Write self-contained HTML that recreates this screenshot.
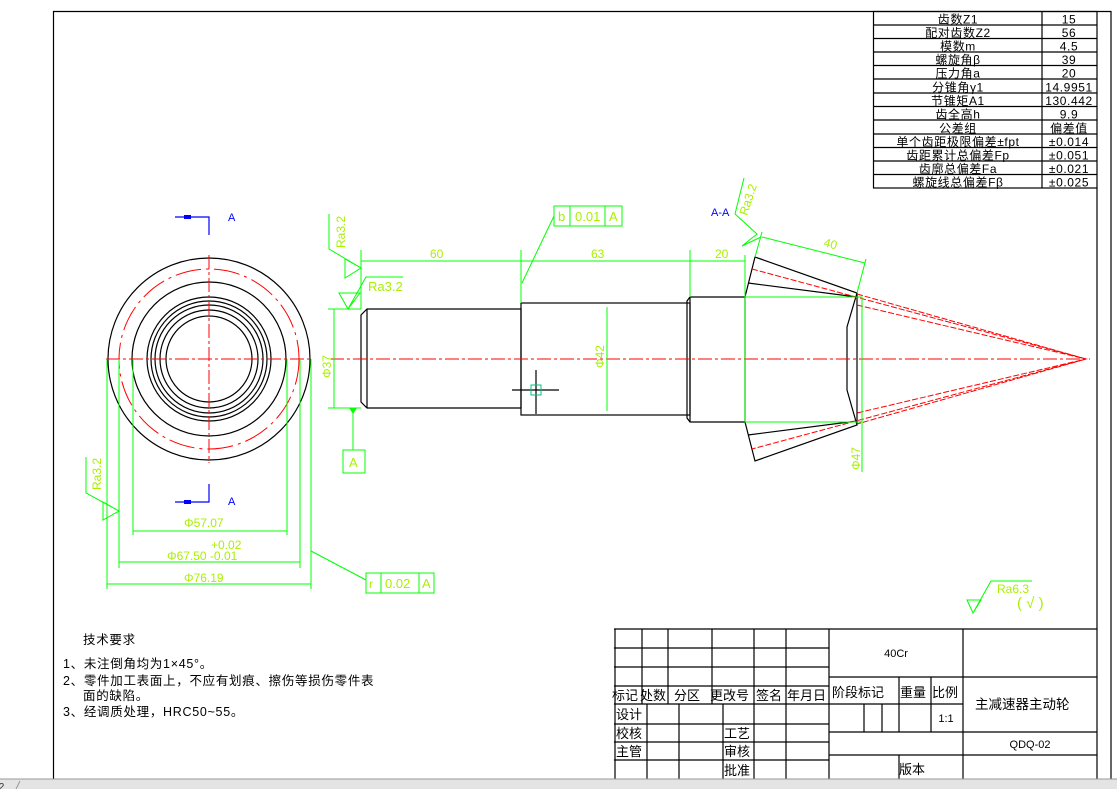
<!DOCTYPE html>
<html><head><meta charset="utf-8"><style>
html,body{margin:0;padding:0;background:#fff;}
svg{display:block;}
text{font-family:"Liberation Sans","Noto Sans CJK SC",sans-serif;}
.g{stroke:#00ff00;fill:none;stroke-width:1}
.k{stroke:#000;fill:none;stroke-width:1.2}
.r{stroke:#ff0000;fill:none;stroke-width:1;stroke-dasharray:14 3 3 3}
.rd{stroke:#ff0000;fill:none;stroke-width:1;stroke-dasharray:6 2}
.gt{fill:#a8f000;font-size:12px}
.tb{font-size:12px;fill:#000}
</style></head><body>
<svg width="1117" height="789" viewBox="0 0 1117 789" xmlns="http://www.w3.org/2000/svg">
<rect x="0" y="0" width="1117" height="789" fill="#fff"/>
<path class="k" d="M53.5,779 V11.5 H1111 V779"/>
<line class="k" x1="1097" y1="188" x2="1097" y2="779"/>
<g stroke="#000" stroke-width="1.2" fill="none">
<rect x="873.5" y="11.5" width="223.5" height="176.5"/>
<line x1="1042" y1="11.5" x2="1042" y2="188"/>
<line x1="873" y1="25" x2="1097" y2="25"/><line x1="873" y1="38.5" x2="1097" y2="38.5"/>
<line x1="873" y1="52" x2="1097" y2="52"/><line x1="873" y1="65.5" x2="1097" y2="65.5"/>
<line x1="873" y1="79" x2="1097" y2="79"/><line x1="873" y1="93" x2="1097" y2="93"/>
<line x1="873" y1="106.5" x2="1097" y2="106.5"/><line x1="873" y1="120" x2="1097" y2="120"/>
<line x1="873" y1="134" x2="1097" y2="134"/><line x1="873" y1="147.5" x2="1097" y2="147.5"/>
<line x1="873" y1="161" x2="1097" y2="161"/><line x1="873" y1="174.5" x2="1097" y2="174.5"/>
</g>
<g class="tb" text-anchor="middle" font-size="12.5" letter-spacing="0.6">
<text x="958" y="23.5">齿数Z1</text><text x="1069" y="23.5">15</text>
<text x="958" y="37">配对齿数Z2</text><text x="1069" y="37">56</text>
<text x="958" y="50.5">模数m</text><text x="1069" y="50.5">4.5</text>
<text x="958" y="64">螺旋角β</text><text x="1069" y="64">39</text>
<text x="958" y="77.5">压力角a</text><text x="1069" y="77.5">20</text>
<text x="958" y="91.5">分锥角γ1</text><text x="1069" y="91.5">14.9951</text>
<text x="958" y="105">节锥矩A1</text><text x="1069" y="105">130.442</text>
<text x="958" y="118.5">齿全高h</text><text x="1069" y="118.5">9.9</text>
<text x="958" y="132.5">公差组</text><text x="1069" y="132.5">偏差值</text>
<text x="958" y="146">单个齿距极限偏差±fpt</text><text x="1069" y="146">±0.014</text>
<text x="958" y="159.5">齿距累计总偏差Fp</text><text x="1069" y="159.5">±0.051</text>
<text x="958" y="173">齿廓总偏差Fa</text><text x="1069" y="173">±0.021</text>
<text x="958" y="186.5">螺旋线总偏差Fβ</text><text x="1069" y="186.5">±0.025</text>
</g>

<g class="k">
<circle cx="209" cy="359" r="101"/>
<circle cx="209" cy="359" r="77"/>
<circle cx="209" cy="359" r="62"/>
<circle cx="209" cy="359" r="58"/>
<circle cx="209" cy="359" r="54"/>
<circle cx="209" cy="359" r="49"/>
<circle cx="209" cy="359" r="43"/>
</g>
<circle cx="209" cy="359" r="90" class="r" style="stroke-dasharray:26 5 3 5"/>
<line class="r" x1="106" y1="359" x2="312" y2="359"/>
<line class="r" x1="209" y1="255" x2="209" y2="463"/>
<g stroke="#0000ff" fill="none" stroke-width="1.2">
<path d="M175,217 H209 V235"/><path d="M175,502 H209 V484"/>
</g>
<rect x="184" y="215" width="7" height="4" fill="#0000ff"/>
<rect x="184" y="500" width="7" height="4" fill="#0000ff"/>
<text x="228" y="221" fill="#0000ff" font-size="11">A</text>
<text x="228" y="505" fill="#0000ff" font-size="11">A</text>
<g class="g">
<line x1="107" y1="359" x2="107" y2="589"/><line x1="119" y1="359" x2="119" y2="568"/>
<line x1="133" y1="359" x2="133" y2="535"/><line x1="287" y1="359" x2="287" y2="535"/>
<line x1="300" y1="359" x2="300" y2="568"/><line x1="311" y1="359" x2="311" y2="589"/>
<line x1="133" y1="531" x2="287" y2="531"/><line x1="119" y1="562" x2="300" y2="562"/>
<line x1="107" y1="584" x2="311" y2="584"/>
<line x1="311" y1="551" x2="366" y2="580"/>
<rect x="366" y="573" width="68" height="20"/><line x1="381" y1="573" x2="381" y2="593"/><line x1="419" y1="573" x2="419" y2="593"/>
<path d="M86,457 V493 L119,511 L103,520 V502 L119,511"/>
</g>
<g class="gt">
<text x="184" y="527">Φ57.07</text>
<text x="211" y="549">+0.02</text>
<text x="167" y="560">Φ67.50 -0.01</text>
<text x="184" y="582">Φ76.19</text>
<text x="369" y="588" font-size="12">r</text><text x="385" y="588" font-size="13">0.02</text><text x="422" y="588" font-size="13">A</text>
<text transform="translate(101,490) rotate(-90)">Ra3.2</text>
</g>

<g class="k">
<path d="M367,309 H521 V408 H367 L361,402 V315 Z"/><line x1="367" y1="309" x2="367" y2="408"/>
<rect x="521" y="303" width="169" height="112"/>
<path d="M690,297 H745 V422 H690 L687,418 V301 Z"/><line x1="690" y1="297" x2="690" y2="422"/>
<path d="M745,297 L755,257 L857,293 L847,327 V390 L857,425 L755,461 L745,422"/>
<path d="M748,283 L857,297"/><path d="M748,435 L857,421"/>
<line x1="857" y1="293" x2="857" y2="425"/>
<line x1="536" y1="370" x2="536" y2="414"/><line x1="512" y1="390" x2="559" y2="390"/>
</g>
<rect x="531" y="385" width="10" height="10" fill="none" stroke="#00c080"/>
<line class="r" x1="330" y1="359" x2="1090" y2="359"/>
<g class="rd">
<path d="M752,269 L1086,359 L752,449"/>
<path d="M857,294 L1086,359 L857,424"/>
<path d="M857,305 L1086,359 L857,413"/>
</g>
<g class="g">
<rect x="745" y="297" width="117" height="125"/>
<line x1="862" y1="297" x2="862" y2="472"/>
<line x1="361" y1="250" x2="361" y2="309"/><line x1="521" y1="250" x2="521" y2="303"/>
<line x1="690" y1="250" x2="690" y2="297"/><line x1="745" y1="255" x2="745" y2="297"/>
<line x1="361" y1="261" x2="745" y2="261"/>
<line x1="755" y1="257" x2="762" y2="232"/><line x1="857" y1="293" x2="866" y2="259"/>
<line x1="762" y1="237" x2="865" y2="263"/>
<line x1="607" y1="307" x2="607" y2="411"/>
<line x1="328" y1="309" x2="361" y2="309"/><line x1="328" y1="408" x2="361" y2="408"/>
<line x1="334" y1="309" x2="334" y2="408"/>
<line x1="353" y1="408" x2="353" y2="450"/>
<rect x="343" y="450" width="22" height="23"/>
<rect x="554" y="206" width="68" height="20"/><line x1="570" y1="206" x2="570" y2="226"/><line x1="605" y1="206" x2="605" y2="226"/>
<line x1="554" y1="216" x2="522" y2="283"/>
<path d="M329,214 V249 L361,268 L345,278 V259 L361,268"/>
<path d="M339,293 H360 L348,309 Z M348,309 L366,277 H403"/>
<path d="M735,214 L744,178 M735,214 L757,234 L742,246 L761,237"/>
<path d="M967,600 H981 L973,613 Z M973,613 L991,581 H1032"/>
</g>
<polygon points="349,408 357,408 353,414" fill="#00ff00"/>
<g class="gt">
<text x="430" y="258">60</text><text x="591" y="258">63</text><text x="715" y="258">20</text>
<text transform="translate(823,246) rotate(15)">40</text>
<text x="368" y="291" font-size="13">Ra3.2</text>
<text transform="translate(345,248) rotate(-90)">Ra3.2</text>
<text transform="translate(747,216) rotate(-72)">Ra3.2</text>
<text transform="translate(331,378) rotate(-90)">Φ37</text>
<text transform="translate(604,368) rotate(-90)">Φ42</text>
<text transform="translate(860,470) rotate(-90)">Φ47</text>
<text x="349" y="467" font-size="13">A</text>
<text x="558" y="221" font-size="13">b</text><text x="575" y="221" font-size="13">0.01</text><text x="609" y="221" font-size="13">A</text>
<text x="997" y="593" font-size="12">Ra6.3</text>
<text x="1017" y="608" font-size="15">( √ )</text>
</g>
<text x="711" y="216" fill="#0000ff" font-size="11">A-A</text>

<g font-size="12.5" fill="#000" letter-spacing="0.7">
<text x="83" y="644">技术要求</text>
<text x="63" y="668">1、未注倒角均为1×45°。</text>
<text x="63" y="685">2、零件加工表面上，不应有划痕、擦伤等损伤零件表</text>
<text x="83" y="700">面的缺陷。</text>
<text x="63" y="716">3、经调质处理，HRC50~55。</text>
</g>

<g stroke="#000" stroke-width="1.2" fill="none">
<line x1="614" y1="629" x2="1097" y2="629"/>
<line x1="615" y1="629" x2="615" y2="779"/>
<line x1="614" y1="648" x2="829" y2="648"/><line x1="614" y1="667" x2="829" y2="667"/>
<line x1="614" y1="686" x2="829" y2="686"/>
<line x1="614" y1="704" x2="829" y2="704"/><line x1="614" y1="724" x2="829" y2="724"/>
<line x1="614" y1="742" x2="829" y2="742"/><line x1="614" y1="760" x2="829" y2="760"/>
<line x1="642" y1="629" x2="642" y2="704"/><line x1="668" y1="629" x2="668" y2="704"/>
<line x1="712" y1="629" x2="712" y2="704"/>
<line x1="647" y1="704" x2="647" y2="779"/><line x1="679" y1="704" x2="679" y2="779"/>
<line x1="723" y1="704" x2="723" y2="779"/>
<line x1="754" y1="629" x2="754" y2="779"/><line x1="786" y1="629" x2="786" y2="779"/>
<line x1="829" y1="629" x2="829" y2="779"/>
<line x1="963" y1="629" x2="963" y2="779"/>
<line x1="829" y1="677" x2="1097" y2="677"/>
<line x1="829" y1="704" x2="963" y2="704"/>
<line x1="829" y1="732" x2="1097" y2="732"/>
<line x1="829" y1="755" x2="1097" y2="755"/>
<line x1="899" y1="677" x2="899" y2="732"/><line x1="931" y1="677" x2="931" y2="732"/>
<line x1="864" y1="704" x2="864" y2="732"/><line x1="882" y1="704" x2="882" y2="732"/>
<line x1="899" y1="755" x2="899" y2="779"/>
</g>
<g font-size="13" fill="#000">
<text x="612" y="700">标记</text><text x="640" y="700">处数</text><text x="674" y="700">分区</text>
<text x="710" y="700">更改号</text><text x="756" y="700">签名</text><text x="787" y="700">年月日</text>
<text x="616" y="719">设计</text><text x="616" y="738">校核</text><text x="616" y="756">主管</text>
<text x="724" y="738">工艺</text><text x="724" y="756">审核</text><text x="724" y="775">批准</text>
<text x="832" y="697">阶段标记</text><text x="900" y="697">重量</text><text x="932" y="697">比例</text>
<text x="899" y="774">版本</text>
<text x="975" y="709" font-size="13.5">主减速器主动轮</text>
</g>
<g font-size="11" fill="#000" text-anchor="middle">
<text x="896" y="657">40Cr</text>
<text x="946" y="722">1:1</text>
<text x="1030" y="748">QDQ-02</text>
</g>
<rect x="0" y="779" width="1117" height="10" fill="#e4e4e4"/>
<line x1="0" y1="779" x2="1117" y2="779" stroke="#999"/>
<text x="-4" y="790" font-size="10" fill="#333">t2</text>
<line x1="16" y1="789" x2="20" y2="781" stroke="#999"/>
</svg>
</body></html>
